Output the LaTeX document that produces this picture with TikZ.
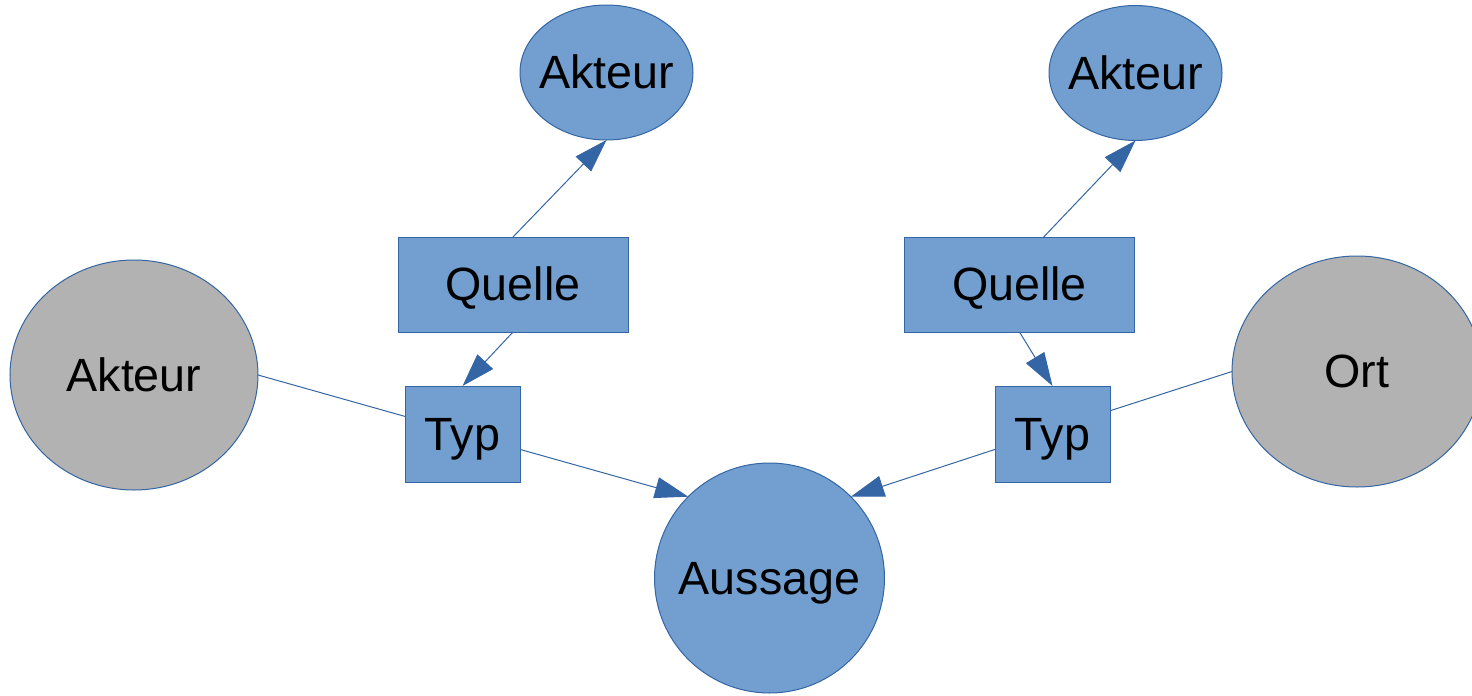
\documentclass[tikz,border=0pt]{standalone}
\usepackage{fontspec}
\setmainfont{Liberation Sans}
\usetikzlibrary{shapes.geometric,arrows.meta}
\definecolor{bfill}{HTML}{729FCF}
\definecolor{bline}{HTML}{3465A4}
\definecolor{gfill}{HTML}{B2B2B2}
\begin{document}
\begin{tikzpicture}[x=0.75pt,y=-0.75pt,
  font=\fontsize{35pt}{42pt}\selectfont,
  every node/.style={inner sep=0pt,outer sep=0pt,line width=0.75pt,draw=bline,text height=31.7pt,text depth=7.4pt},
  box/.style={rectangle,fill=bfill},
  blueell/.style={ellipse,fill=bfill},
  grayell/.style={ellipse,fill=gfill},
  conn/.style={draw=bline,line width=0.75pt},
  arr/.style={conn,-{Triangle[length=25pt,width=16pt]}},
  txt/.style={label={[draw=none]center:#1}}
]
\useasboundingbox (0,0) rectangle (1472,696);
% nodes
\node[blueell,minimum width=129.75pt,minimum height=101.25pt,txt=Akteur] (akteurL) at (606.5,72.5) {};
\node[blueell,minimum width=129.75pt,minimum height=101.25pt,txt=Akteur] (akteurR) at (1135.5,73) {};
\node[box,minimum width=172.5pt,minimum height=71.25pt] (quelleL) at (513,284.5) {Quelle};
\node[box,minimum width=172.5pt,minimum height=71.25pt] (quelleR) at (1019.5,284.5) {Quelle};
\node[box,minimum width=86.25pt,minimum height=72pt] (typL) at (462.5,434) {Typ};
\node[box,minimum width=86.25pt,minimum height=72pt] (typR) at (1052.5,434) {Typ};
\node[grayell,minimum width=186pt,minimum height=172.5pt,txt=Akteur] (akteurG) at (134,375) {};
\node[grayell,minimum width=187.5pt,minimum height=173.25pt,txt=Ort] (ort) at (1357,371.5) {};
\node[circle,fill=bfill,minimum size=172.5pt,txt=Aussage] (aussage) at (769.5,578) {};
% connectors
\draw[arr] (quelleL.north) -- (akteurL.south);
\draw[arr] (quelleL.south) -- (typL.north);
\draw[conn] (akteurG.east) -- (typL.163);
\draw[arr] (typL.-15) -- (aussage.135);
\draw[arr] (quelleR.63.7) -- (akteurR.south);
\draw[arr] (quelleR.south) -- (typR.north);
\draw[conn] (ort.west) -- (typR.22);
\draw[arr] (typR.195) -- (aussage.45);
\end{tikzpicture}
\end{document}
